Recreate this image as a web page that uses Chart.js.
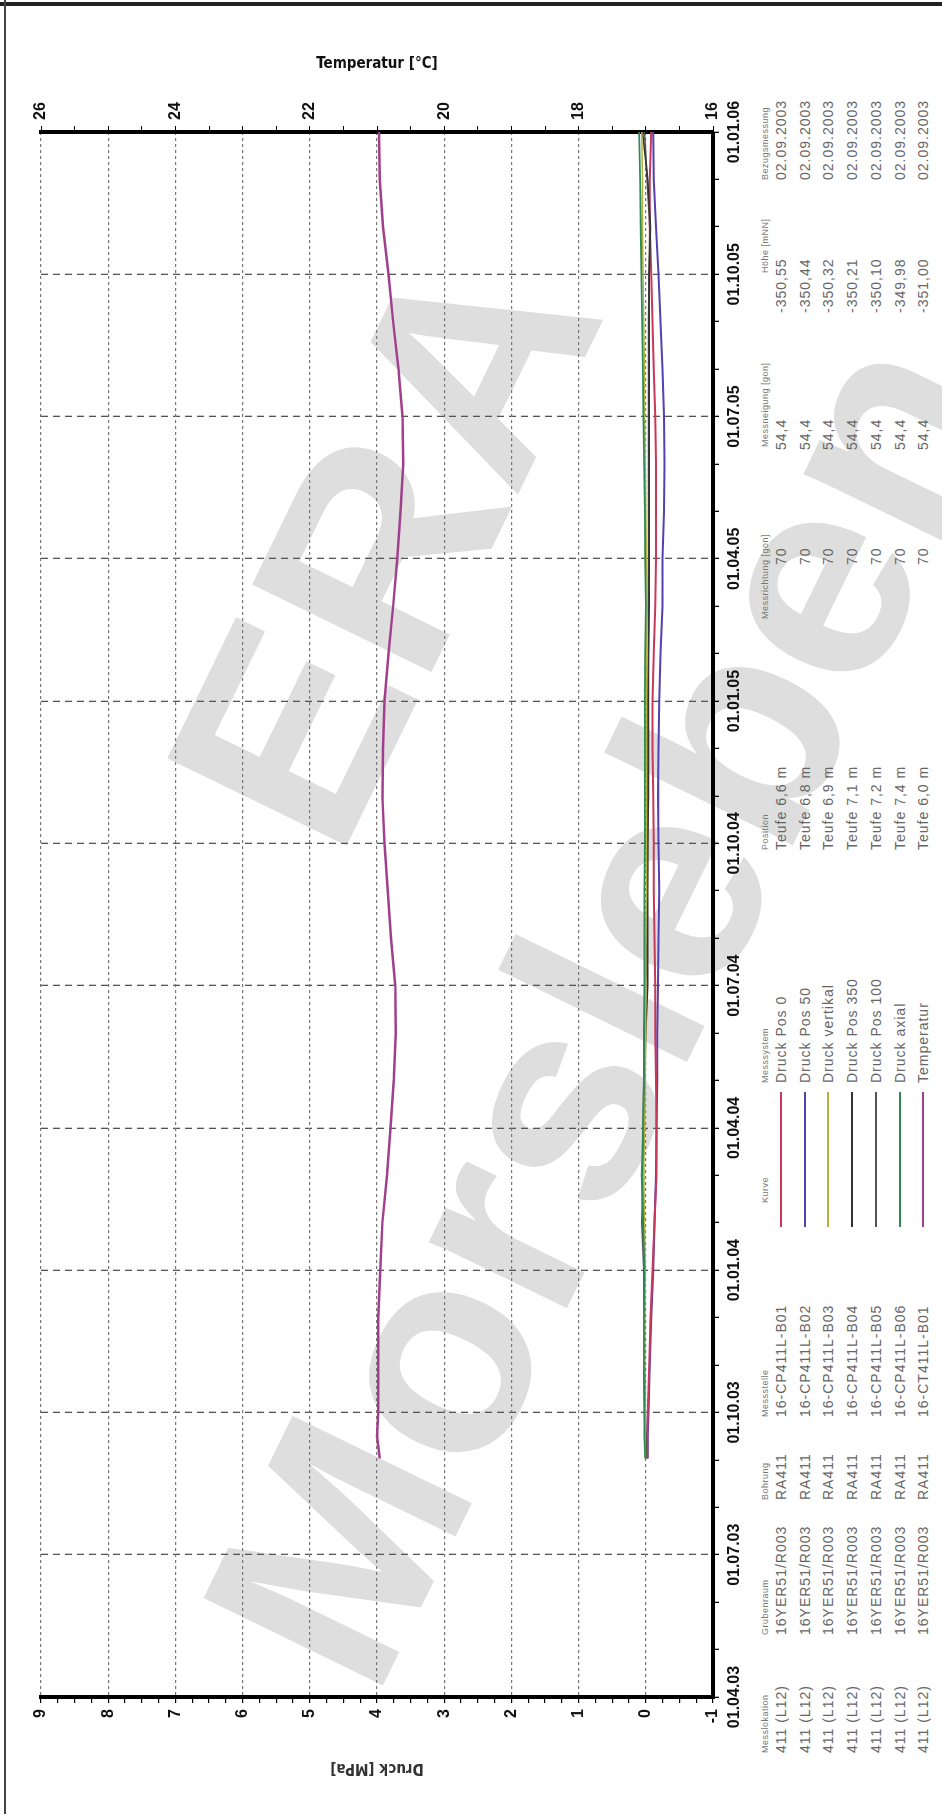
<!DOCTYPE html>
<html>
<head>
<meta charset="utf-8">
<script src="https://cdn.jsdelivr.net/npm/chart.js@4.4.1/dist/chart.umd.min.js"></script>
<style>
  html, body { margin: 0; padding: 0; background: #fff; width: 942px; height: 1814px; overflow: hidden; position: relative; font-family: 'Liberation Sans', Arial, sans-serif; }
  #wm { position: absolute; left: 0; top: 0; width: 942px; height: 1814px; overflow: hidden; z-index: 0; }
  .wm { position: absolute; font: bold 290px 'Liberation Sans', Arial, sans-serif; color: #dedede; white-space: nowrap; transform: translate(-50%, -50%) rotate(-64deg); }
  .frame { position: absolute; background: #222; z-index: 3; }
  /* das Diagramm liegt quer: Querformat zeichnen, dann um 90° gegen den Uhrzeigersinn drehen */
  #land { position: absolute; left: 0; top: 0; width: 1814px; height: 942px; transform-origin: 0 0; transform: translateY(1814px) rotate(-90deg); z-index: 1; }
  #wrap { position: absolute; left: 0; top: 0; width: 1814px; height: 760px; }
  .cell { position: absolute; white-space: nowrap; color: #666; font-size: 14px; line-height: 16px; letter-spacing: 1px; }
  .hd { font-size: 9px; line-height: 10px; letter-spacing: 0.5px; color: #777; }
  .kurve { position: absolute; height: 2px; width: 135px; }
</style>
</head>
<body>
<div id="wm">
  <div class="wm" style="left:382px; top:544px;">ERA</div>
  <div class="wm" style="left:602px; top:1007px;">Morsleben</div>
</div>
<div class="frame" style="left:0; top:2px; width:942px; height:4px;"></div>
<div class="frame" style="left:4px; top:0; width:2px; height:1814px; background:#444;"></div>

<div id="land">
  <div id="wrap"><canvas id="chart" width="1814" height="760"></canvas></div>
  <div id="table"></div>
</div>

<script>
// Zeitachse in Monaten ab 01.04.03
const dateLabels = ['01.04.03', '01.07.03', '01.10.03', '01.01.04', '01.04.04', '01.07.04',
                    '01.10.04', '01.01.05', '01.04.05', '01.07.05', '01.10.05', '01.01.06'];
const months = [5.03, 5.5, 6, 7, 8, 9, 10, 11, 12, 13, 14, 15, 16, 17, 18, 19, 20, 21, 22, 23,
                24, 25, 26, 27, 28, 29, 30, 31, 32, 33];

// Druck [MPa]
const druckB01 = [-0.02, -0.02, -0.03, -0.05, -0.07, -0.10, -0.13, -0.16, -0.16, -0.15,
                  -0.14, -0.14, -0.13, -0.12, -0.12, -0.11, -0.10, -0.10, -0.12, -0.14,
                  -0.15, -0.15, -0.15, -0.14, -0.12, -0.10, -0.08, -0.06, -0.06, -0.08];
const druckB02 = [-0.03, -0.03, -0.04, -0.06, -0.08, -0.11, -0.13, -0.15, -0.16, -0.17,
                  -0.17, -0.18, -0.19, -0.20, -0.19, -0.18, -0.19, -0.20, -0.22, -0.25,
                  -0.25, -0.27, -0.28, -0.27, -0.25, -0.22, -0.19, -0.15, -0.12, -0.11];
const druckB03 = [0.00, 0.01, 0.01, 0.02, 0.02, 0.01, 0.02, 0.03, 0.02, 0.01,
                  0.00, 0.00, 0.00, -0.01, -0.01, -0.01, -0.01, -0.01, -0.01, -0.02,
                  -0.01, 0.00, 0.01, 0.02, 0.02, 0.03, 0.04, 0.05, 0.05, 0.06];
const druckB04 = [-0.01, 0.00, 0.01, 0.02, 0.02, 0.02, 0.04, 0.05, 0.03, 0.02,
                  0.00, -0.03, -0.03, -0.03, -0.03, -0.04, -0.04, -0.04, -0.04, -0.05,
                  -0.05, -0.05, -0.05, -0.05, -0.05, -0.05, -0.05, -0.07, -0.03, 0.05];
const druckB05 = [0.00, 0.01, 0.02, 0.03, 0.03, 0.03, 0.06, 0.04, 0.04, 0.03,
                  0.02, 0.00, -0.02, -0.02, -0.03, -0.03, -0.03, -0.03, -0.04, -0.04,
                  -0.04, -0.04, -0.04, -0.04, -0.04, -0.04, -0.05, -0.06, -0.02, 0.02];
const druckB06 = [0.01, 0.02, 0.02, 0.03, 0.03, 0.02, 0.04, 0.06, 0.04, 0.03,
                  0.03, 0.02, 0.02, 0.02, 0.015, 0.015, 0.015, 0.015, 0.01, 0.00,
                  0.01, 0.015, 0.025, 0.035, 0.045, 0.055, 0.065, 0.075, 0.085, 0.10];
// Temperatur [°C]
const tempB01 = [20.96, 21.00, 20.98, 20.98, 20.98, 20.95, 20.92, 20.85, 20.80, 20.75,
                 20.72, 20.73, 20.79, 20.84, 20.89, 20.92, 20.91, 20.89, 20.83, 20.76,
                 20.70, 20.65, 20.61, 20.62, 20.68, 20.76, 20.83, 20.91, 20.96, 20.97];

// Tabelle unter dem Diagramm
const messlokation = Array(7).fill('411 (L12)');
const grubenraum = Array(7).fill('16YER51/R003');
const bohrung = Array(7).fill('RA411');
const messstelle = ['16-CP411L-B01', '16-CP411L-B02', '16-CP411L-B03', '16-CP411L-B04',
                    '16-CP411L-B05', '16-CP411L-B06', '16-CT411L-B01'];
const kurveColors = ['#c8385a', '#5540b0', '#b4b23c', '#333333', '#555555', '#2e8b57', '#a0408c'];
const messsystem = ['Druck Pos 0', 'Druck Pos 50', 'Druck vertikal', 'Druck Pos 350',
                    'Druck Pos 100', 'Druck axial', 'Temperatur'];
const position = ['Teufe 6,6 m', 'Teufe 6,8 m', 'Teufe 6,9 m', 'Teufe 7,1 m',
                  'Teufe 7,2 m', 'Teufe 7,4 m', 'Teufe 6,0 m'];
const messrichtung = Array(7).fill('70');
const messneigung = Array(7).fill('54,4');
const hoehe = ['-350,55', '-350,44', '-350,32', '-350,21', '-350,10', '-349,98', '-351,00'];
const bezugsmessung = Array(7).fill('02.09.2003');

// Tabelle aufbauen
const table = document.getElementById('table');
const columns = [
  { head: 'Messlokation', hx: 61, vx: 61, values: messlokation },
  { head: 'Grubenraum', hx: 179, vx: 179, values: grubenraum },
  { head: 'Bohrung', hx: 314, vx: 314, values: bohrung },
  { head: 'Messstelle', hx: 397, vx: 397, values: messstelle },
  { head: 'Kurve', hx: 611, vx: 587, values: null },
  { head: 'Messsystem', hx: 731, vx: 731, values: messsystem },
  { head: 'Position', hx: 964, vx: 964, values: position },
  { head: 'Messrichtung [gon]', hx: 1195, vx: 1249, values: messrichtung },
  { head: 'Messneigung [gon]', hx: 1367, vx: 1364, values: messneigung },
  { head: 'Höhe [mNN]', hx: 1541, vx: 1501, values: hoehe },
  { head: 'Bezugsmessung', hx: 1634, vx: 1634, values: bezugsmessung }
];
const headY = 765;
const rowY = i => 781 + i * 23.7;
columns.forEach(col => {
  const h = document.createElement('div');
  h.className = 'cell hd';
  h.textContent = col.head;
  h.style.left = col.hx + 'px';
  h.style.top = (headY - 5) + 'px';
  table.appendChild(h);
  for (let i = 0; i < 7; i++) {
    if (col.values) {
      const c = document.createElement('div');
      c.className = 'cell';
      c.textContent = col.values[i];
      c.style.left = col.vx + 'px';
      c.style.top = (rowY(i) - 8) + 'px';
      table.appendChild(c);
    } else {
      const l = document.createElement('div');
      l.className = 'kurve';
      l.style.left = col.vx + 'px';
      l.style.top = (rowY(i) - 1) + 'px';
      l.style.background = kurveColors[i];
      table.appendChild(l);
    }
  }
});

const pts = vals => months.map((m, i) => ({ x: m, y: vals[i] }));
const line = (label, vals, color, axis, width) => ({
  label, data: pts(vals), yAxisID: axis,
  borderColor: color, borderWidth: width, pointRadius: 0, tension: 0, fill: false
});

const tickFont = { family: 'Liberation Sans', size: 16, weight: 'bold' };
const dateFont = { family: 'Liberation Sans', size: 16, weight: 'bold' };
const titleFont = { family: "'Liberation Sans Narrow', 'DejaVu Sans Condensed', 'Liberation Sans'", size: 15, weight: 'bold' };
const clear = 'rgba(0,0,0,0)';

new Chart(document.getElementById('chart'), {
  type: 'line',
  data: {
    datasets: [
      line('Druck axial', druckB06, kurveColors[5], 'yD', 1.8),
      line('Druck vertikal', druckB03, kurveColors[2], 'yD', 1.5),
      line('Druck Pos 350', druckB04, kurveColors[3], 'yD', 1.6),
      line('Druck Pos 100', druckB05, kurveColors[4], 'yD', 1.6),
      line('Druck Pos 0', druckB01, kurveColors[0], 'yD', 2),
      line('Druck Pos 50', druckB02, kurveColors[1], 'yD', 2),
      line('Temperatur', tempB01, kurveColors[6], 'yT', 2.5)
    ]
  },
  options: {
    responsive: false,
    animation: false,
    layout: { padding: { top: 41, left: 0, right: 0, bottom: 0 } },
    plugins: { legend: { display: false }, tooltip: { enabled: false } },
    scales: {
      x: {
        type: 'linear', min: 0, max: 33,
        afterFit: s => { s.height = 47; },
        ticks: {
          stepSize: 1, autoSkip: false, maxRotation: 0, padding: 6,
          font: dateFont, color: '#111',
          callback: v => (v % 3 === 0 ? dateLabels[v / 3] : '')
        },
        grid: {
          color: ctx => (ctx.tick && ctx.tick.value % 3 === 0 ? '#555' : clear),
          lineWidth: 1.3, tickColor: '#000', tickLength: 6, tickBorderDash: [], borderDash: [7, 5]
        },
        border: { color: '#000', width: 4, dash: [7, 5] }
      },
      yD: {
        type: 'linear', position: 'left', min: -1, max: 9,
        afterFit: s => { s.width = 117; },
        title: { display: true, text: 'Druck [MPa]', font: titleFont, color: '#333', padding: { top: 37, bottom: 0 } },
        ticks: {
          stepSize: 0.25, autoSkip: false, padding: 6, font: tickFont, color: '#111',
          callback: v => (Number.isInteger(v) ? String(v) : '')
        },
        grid: {
          color: ctx => (ctx.tick && Number.isInteger(ctx.tick.value) ? '#777' : clear),
          lineWidth: 1.2, tickColor: '#000', tickLength: 6, tickBorderDash: [], borderDash: [3, 3]
        },
        border: { color: '#000', width: 4, dash: [3, 3] }
      },
      yT: {
        type: 'linear', position: 'right', min: 16, max: 26,
        afterFit: s => { s.width = 132; },
        title: { display: true, text: 'Temperatur [°C]', font: titleFont, color: '#111', padding: { top: 55, bottom: 0 } },
        ticks: {
          stepSize: 0.5, autoSkip: false, padding: 6, font: tickFont, color: '#111',
          callback: v => (Number.isInteger(v) && v % 2 === 0 ? String(v) : '')
        },
        grid: { drawOnChartArea: false, color: '#000', tickColor: '#000', tickLength: 6 },
        border: { color: '#000', width: 4 }
      }
    }
  }
});
</script>
</body>
</html>
